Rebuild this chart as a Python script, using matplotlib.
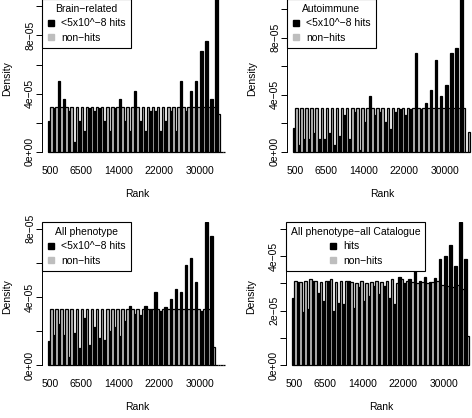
import numpy as np
import matplotlib.pyplot as plt

plt.rcParams['font.family'] = ['Liberation Sans', 'DejaVu Sans']
plt.rcParams['font.size'] = 7.5

# densities in units of 1e-05, one value per rank bin of 1000
bin_width = 1000
tick_ranks = [500, 6500, 14000, 22000, 30000]

brain_hits = [2.1, 3.0, 4.9, 3.6, 2.8, 0.7, 2.1, 1.4, 3.0, 2.8, 3.0, 2.1, 1.4, 3.0, 3.6,
              2.1, 1.4, 4.2, 2.1, 1.4, 2.8, 2.8, 1.4, 2.1, 2.8, 1.4, 4.9, 2.8, 4.2, 4.9,
              6.9, 7.6, 3.6, 10.5, 0.0]
brain_non = [3.05] * 33 + [2.6, 0.0]

auto_hits = [1.7, 0.5, 0.9, 0.9, 1.3, 0.9, 0.9, 1.3, 0.5, 1.1, 2.6, 0.9, 2.8, 0.1, 2.1,
             3.9, 2.6, 2.8, 2.1, 1.6, 2.8, 3.0, 2.6, 3.0, 6.9, 3.0, 3.4, 4.3, 6.4, 3.9,
             4.7, 6.9, 7.3, 10.7, 0.0]
auto_non = [3.05] * 34 + [1.4]

allph_hits = [1.4, 1.8, 2.4, 1.75, 0.5, 1.9, 1.0, 2.8, 1.2, 2.25, 1.6, 1.5, 2.0, 2.25, 1.7,
              2.6, 3.5, 3.0, 2.95, 3.5, 3.3, 4.3, 3.2, 3.4, 3.9, 4.5, 4.3, 5.9, 6.3, 4.9,
              3.2, 8.4, 7.6, 0.0, 0.0]
allph_non = [3.3] * 32 + [1.1, 0.0, 0.0]

cat_hits = [2.45, 3.05, 1.95, 2.05, 3.1, 2.65, 2.35, 3.1, 2.0, 2.3, 2.25, 3.1, 2.1, 2.85, 2.35,
            2.55, 2.9, 2.6, 2.9, 2.45, 2.25, 3.25, 3.0, 3.15, 3.8, 3.1, 3.25, 3.05, 3.2, 3.9,
            4.0, 4.4, 3.65, 5.25, 3.9]
cat_non = [3.1, 3.05, 3.1, 3.15, 3.1, 3.05, 3.1, 3.15, 3.05, 3.1, 3.1, 3.05, 3.0, 3.1, 3.0,
           3.05, 3.1, 3.05, 3.1, 3.15, 3.0, 3.15, 3.1, 3.05, 3.0, 3.05, 3.0, 3.05, 3.1, 2.95,
           2.9, 2.85, 2.95, 2.8, 1.06]

titles = ['Brain\u2212related', 'Autoimmune', 'All phenotype', 'All phenotype\u2212all Catalogue']
hit_labels = ['<5x10^\u22128 hits'] * 3 + ['hits']
hits_all = [brain_hits, auto_hits, allph_hits, cat_hits]
non_all = [brain_non, auto_non, allph_non, cat_non]
ytick_steps = [2, 2, 2, 1]

W, H = 472, 418
# panel boxes in pixels: left, top, right, bottom
boxes = [(42, -1, 232, 158), (287, -1, 477, 158), (42, 222, 232, 371), (286, 222, 476, 371)]

fig = plt.figure(figsize=(W / 100, H / 100), dpi=100)

for i in range(4):
    l, t, r, b = boxes[i]
    ax = fig.add_axes([l / W, 1 - b / H, (r - l) / W, (b - t) / H])
    hits = np.array(hits_all[i]) * 1e-5
    non = np.array(non_all[i]) * 1e-5
    left = np.arange(len(hits)) * bin_width
    ax.bar(left, hits, width=bin_width / 2, align='edge', color='black',
           edgecolor='black', linewidth=0.9)
    ax.bar(left + bin_width / 2, non, width=bin_width / 2, align='edge', color='#bebebe',
           edgecolor='black', linewidth=0.9)

    top = max(hits.max(), non.max())
    ax.set_ylim(-0.04 * top, top)
    ax.set_xlim(-1100, 36300)

    step = ytick_steps[i] * 1e-5
    yt = np.arange(0, top + 1e-12, step)
    ax.set_yticks(yt)
    labels = []
    for k, v in enumerate(yt):
        if k % 2 == 0:
            labels.append(('%.0e' % v).replace('-', '\u2212'))
        else:
            labels.append('')
    ax.set_yticklabels(labels, rotation=90, va='center')
    ax.tick_params(axis='y', length=4, width=0.7, pad=1)

    ax.set_xticks(tick_ranks)
    ax.set_xticklabels([str(v) for v in tick_ranks])
    ax.tick_params(axis='x', length=0, pad=6)

    for s in ['top', 'right', 'bottom']:
        ax.spines[s].set_visible(False)
    ax.spines['left'].set_bounds(0, yt[-1])
    ax.spines['left'].set_linewidth(0.7)

    ax.set_ylabel('Density', labelpad=9)
    ax.set_xlabel('Rank', labelpad=9)

    h1 = plt.Line2D([], [], marker='s', color='black', linestyle='', markersize=4)
    h2 = plt.Line2D([], [], marker='s', color='#bebebe', linestyle='', markersize=4)
    leg = ax.legend([h1, h2], [hit_labels[i], 'non\u2212hits'], title=titles[i],
                    loc='upper left', borderaxespad=0, fancybox=False, framealpha=1,
                    edgecolor='black', handlelength=0.8, handletextpad=0.6,
                    labelspacing=0.45, borderpad=0.45, title_fontsize=7.5)
    leg.get_frame().set_linewidth(0.8)

fig.savefig('out.png', dpi=100)
